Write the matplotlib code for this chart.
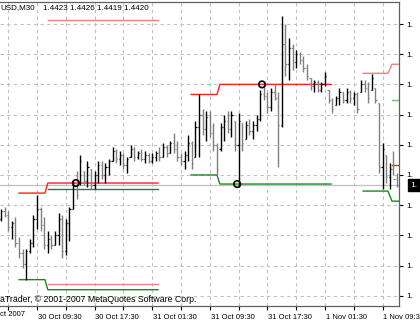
import numpy as np
import matplotlib.pyplot as plt

plt.rcParams['font.family'] = ['Liberation Sans', 'DejaVu Sans']

# M30 bars, index 0 = 30 Oct 09:30
bar_idx = list(range(-10, 101))
opens = [1.4403, 1.4407, 1.4405, 1.4399, 1.4401, 1.4391, 1.4386, 1.4381, 1.4387, 1.4391,
         1.4403, 1.4408, 1.4400, 1.4390, 1.4393, 1.4390, 1.4395, 1.4403, 1.4387, 1.4401,
         1.4408, 1.4420, 1.4421, 1.4427, 1.4422, 1.4428, 1.4420, 1.4425, 1.4430, 1.4425,
         1.4429, 1.4432, 1.4437, 1.4433, 1.4435, 1.4430, 1.4434, 1.4438, 1.4434, 1.4436,
         1.4433, 1.4435, 1.4432, 1.4434, 1.4436, 1.4434, 1.4439, 1.4436, 1.4441, 1.4438,
         1.4434, 1.4432, 1.4435, 1.4441, 1.4434, 1.4449, 1.4455, 1.4448, 1.4454, 1.4446,
         1.4440, 1.4438, 1.4449, 1.4452, 1.4448, 1.4452, 1.4440, 1.4451, 1.4443, 1.4450,
         1.4447, 1.4450, 1.4453, 1.4465, 1.4464, 1.4459, 1.4466, 1.4463, 1.4450, 1.4490,
         1.4480, 1.4488, 1.4481, 1.4485, 1.4482, 1.4478, 1.4473, 1.4469, 1.4471, 1.4467,
         1.4470, 1.4467, 1.4462, 1.4460, 1.4463, 1.4466, 1.4462, 1.4466, 1.4463, 1.4465,
         1.4466, 1.4470, 1.4468, 1.4467, 1.4468, 1.4461, 1.4429, 1.4435, 1.4424, 1.4428,
         1.4423]
highs = [1.4408, 1.4409, 1.4407, 1.4402, 1.4404, 1.4394, 1.4388, 1.4388, 1.4393, 1.4405,
         1.4415, 1.4409, 1.4404, 1.4397, 1.4395, 1.4397, 1.4406, 1.4405, 1.4403, 1.4409,
         1.4422, 1.4427, 1.4435, 1.4427, 1.4432, 1.4428, 1.4427, 1.4432, 1.4432, 1.4431,
         1.4433, 1.4439, 1.4438, 1.4437, 1.4436, 1.4434, 1.4440, 1.4439, 1.4437, 1.4438,
         1.4437, 1.4436, 1.4436, 1.4437, 1.4439, 1.4441, 1.4440, 1.4442, 1.4446, 1.4442,
         1.4436, 1.4437, 1.4445, 1.4442, 1.4452, 1.4465, 1.4458, 1.4457, 1.4457, 1.4451,
         1.4441, 1.4451, 1.4455, 1.4457, 1.4457, 1.4452, 1.4456, 1.4451, 1.4452, 1.4453,
         1.4452, 1.4455, 1.4467, 1.4471, 1.4466, 1.4468, 1.4470, 1.4466, 1.4504, 1.4500,
         1.4493, 1.4490, 1.4487, 1.4486, 1.4484, 1.4480, 1.4473, 1.4472, 1.4472, 1.4471,
         1.4476, 1.4467, 1.4463, 1.4464, 1.4468, 1.4466, 1.4468, 1.4467, 1.4466, 1.4466,
         1.4472, 1.4472, 1.4471, 1.4475, 1.4468, 1.4461, 1.4441, 1.4435, 1.4431, 1.4437,
         1.4426]
lows = [1.4402, 1.4404, 1.4397, 1.4393, 1.4389, 1.4384, 1.4379, 1.4373, 1.4386, 1.4389,
        1.4398, 1.4397, 1.4388, 1.4386, 1.4388, 1.4390, 1.4390, 1.4384, 1.4385, 1.4392,
        1.4408, 1.4413, 1.4420, 1.4420, 1.4419, 1.4418, 1.4418, 1.4421, 1.4423, 1.4421,
        1.4425, 1.4432, 1.4431, 1.4430, 1.4428, 1.4426, 1.4434, 1.4432, 1.4433, 1.4432,
        1.4431, 1.4431, 1.4431, 1.4432, 1.4432, 1.4434, 1.4434, 1.4436, 1.4436, 1.4432,
        1.4430, 1.4428, 1.4432, 1.4428, 1.4434, 1.4434, 1.4445, 1.4442, 1.4444, 1.4437,
        1.4425, 1.4437, 1.4442, 1.4446, 1.4444, 1.4437, 1.4419, 1.4437, 1.4443, 1.4445,
        1.4443, 1.4447, 1.4452, 1.4462, 1.4456, 1.4457, 1.4462, 1.4429, 1.4449, 1.4474,
        1.4472, 1.4477, 1.4478, 1.4480, 1.4476, 1.4472, 1.4467, 1.4466, 1.4466, 1.4466,
        1.4469, 1.4461, 1.4456, 1.4460, 1.4460, 1.4461, 1.4461, 1.4461, 1.4460, 1.4456,
        1.4466, 1.4466, 1.4461, 1.4467, 1.4461, 1.4426, 1.4418, 1.4421, 1.4418, 1.4425,
        1.4419]
closes = [1.4407, 1.4405, 1.4399, 1.4401, 1.4391, 1.4386, 1.4381, 1.4387, 1.4391, 1.4403,
          1.4408, 1.4400, 1.4390, 1.4393, 1.4390, 1.4395, 1.4403, 1.4387, 1.4401, 1.4408,
          1.4420, 1.4415, 1.4432, 1.4422, 1.4429, 1.4420, 1.4425, 1.4430, 1.4425, 1.4429,
          1.4432, 1.4437, 1.4433, 1.4435, 1.4430, 1.4433, 1.4438, 1.4434, 1.4436, 1.4433,
          1.4435, 1.4432, 1.4434, 1.4436, 1.4434, 1.4439, 1.4436, 1.4441, 1.4438, 1.4434,
          1.4432, 1.4435, 1.4441, 1.4431, 1.4449, 1.4455, 1.4448, 1.4454, 1.4446, 1.4440,
          1.4428, 1.4449, 1.4452, 1.4448, 1.4455, 1.4440, 1.4452, 1.4441, 1.4450, 1.4447,
          1.4450, 1.4453, 1.4465, 1.4464, 1.4459, 1.4466, 1.4463, 1.4450, 1.4490, 1.4480,
          1.4488, 1.4481, 1.4485, 1.4482, 1.4478, 1.4474, 1.4469, 1.4471, 1.4467, 1.4470,
          1.4474, 1.4462, 1.4458, 1.4463, 1.4466, 1.4462, 1.4466, 1.4463, 1.4465, 1.4458,
          1.4470, 1.4468, 1.4463, 1.4473, 1.4462, 1.4429, 1.4438, 1.4424, 1.4428, 1.4423,
          1.4420]

tick_bars = [0, 16, 32, 48, 64, 80, 96]
tick_labels = ['30 Oct 09:30', '30 Oct 17:30', '31 Oct 01:30',
               '31 Oct 09:30', '31 Oct 17:30', '1 Nov 01:30', '1 Nov 09:3']
first_label = 'ct 2007'
price_ticks = [1.4365, 1.4380, 1.4395, 1.4410, 1.4425, 1.4440, 1.4455, 1.4470, 1.4485, 1.4500]
last_price = 1.4420

# indicator levels: (bars, levels)
red_steps = [([-5, 2.2, 3, 33.6], [1.4416, 1.4416, 1.4421, 1.4421]),
             ([42.8, 50, 50.8, 81.7], [1.4465, 1.4465, 1.4470, 1.4470]),
             ([98.6, 101], [1.4430, 1.4430])]
green_steps = [([-5, 2.2, 3, 33.6], [1.4373, 1.4373, 1.4368, 1.4368]),
               ([3, 33.6], [1.4418, 1.4418]),
               ([42.8, 50, 50.8, 81.7], [1.4425, 1.4425, 1.44205, 1.44205]),
               ([90.6, 97.5, 98.6, 101], [1.4417, 1.4417, 1.4412, 1.4412])]
light_red = [([3, 33.6], [1.4502, 1.4502]), ([3, 33.6], [1.4371, 1.4371]),
             ([90.6, 97.5, 98.6, 101], [1.44755, 1.44755, 1.4480, 1.4480])]
light_green = [([98.6, 101], [1.4462, 1.4462])]
circle_bars = [10.8, 55.6, 62.5]
circle_prices = [1.4421, 1.44205, 1.4470]

fig = plt.figure(figsize=(4.2, 3.23), dpi=100)
ax = fig.add_axes([0, 17 / 323, 399 / 420, 304 / 323])
ax.set_xlim(-10.28, 100.56)
ax.set_ylim(1.435991, 1.451093)

ax.set_xticks(range(-8, 101, 8))
ax.set_xticklabels([])
ax.set_yticks(price_ticks)
ax.set_yticklabels(['1.'] * len(price_ticks))
ax.grid(True, color='#c0c0c0', linestyle=(0, (3, 3)), linewidth=0.8)
ax.yaxis.tick_right()
ax.tick_params(axis='y', length=3, width=0.8, labelsize=6, pad=2, color='#000000')
ax.tick_params(axis='x', length=3, width=0.8, color='#000000')
ax.spines['left'].set_visible(False)
for s in ['top', 'right', 'bottom']:
    ax.spines[s].set_color('#606060')
    ax.spines[s].set_linewidth(0.9)

for b, lab in zip(tick_bars, tick_labels):
    ax.text(b + 0.2, -0.025, lab, transform=ax.get_xaxis_transform(), ha='left',
            va='top', fontsize=5.5, clip_on=False)
fig.text(0, 1 - 314 / 323, first_label, ha='left', va='center', fontsize=5.5)

ax.axhline(last_price, color='#c0c0c0', lw=0.9, zorder=1)

for x, y in red_steps:
    ax.plot(x, y, color='#ff2020', lw=1.0, zorder=2)
for x, y in green_steps:
    ax.plot(x, y, color='#1a8a1a', lw=1.0, zorder=2)
for x, y in light_red:
    ax.plot(x, y, color='#f08080', lw=1.0, zorder=2)
for x, y in light_green:
    ax.plot(x, y, color='#70c070', lw=1.0, zorder=2)

# OHLC bars: up bars black, down bars grey
idx = np.array(bar_idx)
o = np.array(opens)
c = np.array(closes)
cols = np.where(c >= o, '#000000', '#808080')
ax.vlines(idx, lows, highs, colors=cols, lw=1.0, zorder=3)
ax.hlines(o, idx - 0.33, idx, colors=cols, lw=0.9, zorder=3)
ax.hlines(c, idx, idx + 0.33, colors=cols, lw=0.9, zorder=3)

ax.scatter(circle_bars, circle_prices, s=22, facecolors='none', edgecolors='black',
           linewidths=1.2, zorder=4)

ax.text(410.5 / 399, last_price, '1.', transform=ax.get_yaxis_transform(), ha='left',
        va='center', fontsize=6, color='white', clip_on=False,
        bbox=dict(boxstyle='square,pad=0.25', fc='black', ec='black'))

fig.text(0, 1 - 8 / 323, 'USD,M30', ha='left', va='center', fontsize=5.8)
fig.text(43 / 420, 1 - 8 / 323, '1.4423 1.4426 1.4419 1.4420', ha='left', va='center',
         fontsize=5.8)
fig.text(0, 1 - 300 / 323, 'aTrader, \u00a9 2001-2007 MetaQuotes Software Corp.',
         ha='left', va='center', fontsize=6.3)

fig.savefig('out.png', dpi=100)
